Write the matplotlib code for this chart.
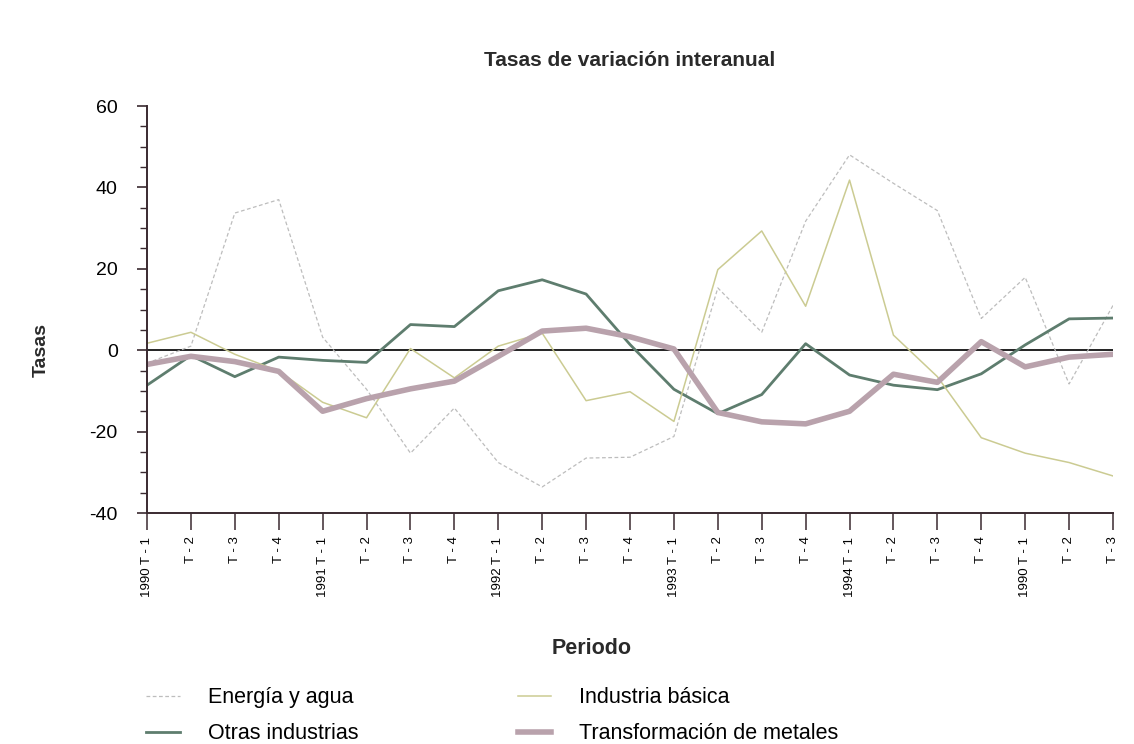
import numpy as np
from matplotlib import pyplot as plt
from matplotlib.lines import Line2D
from matplotlib.ticker import MultipleLocator

plt.rcParams['font.family'] = ['Liberation Sans', 'DejaVu Sans']
plt.rcParams['axes.unicode_minus'] = False

# periods: 1990 T-1 .. 1994 T-4, then 1990 T-1 .. T-3 as printed
periodos = ['1990 T - 1', 'T - 2', 'T - 3', 'T - 4',
            '1991 T - 1', 'T - 2', 'T - 3', 'T - 4',
            '1992 T - 1', 'T - 2', 'T - 3', 'T - 4',
            '1993 T - 1', 'T - 2', 'T - 3', 'T - 4',
            '1994 T - 1', 'T - 2', 'T - 3', 'T - 4',
            '1990 T - 1', 'T - 2', 'T - 3']

energia = [-3.2, 1.0, 33.7, 37.0, 3.2, -9.6, -25.3, -14.2, -27.6, -33.6,
           -26.5, -26.3, -21.2, 15.3, 4.4, 31.7, 48.0, 41.0, 34.3, 7.8,
           17.9, -8.3, 11.0]
basica = [1.7, 4.4, -1.0, -5.1, -12.8, -16.6, 0.4, -6.8, 1.0, 4.2,
          -12.4, -10.2, -17.5, 19.8, 29.3, 10.8, 41.8, 3.7, -6.5, -21.5,
          -25.3, -27.6, -30.9]
otras = [-8.6, -1.3, -6.5, -1.7, -2.5, -3.0, 6.3, 5.8, 14.6, 17.3,
         13.8, 1.4, -9.6, -15.6, -10.9, 1.6, -6.1, -8.6, -9.7, -5.8,
         1.3, 7.7, 7.9]
metales = [-3.5, -1.5, -2.8, -5.2, -15.0, -11.9, -9.5, -7.6, -1.5, 4.7,
           5.4, 3.3, 0.3, -15.3, -17.6, -18.1, -15.0, -5.9, -7.9, 2.1,
           -4.1, -1.7, -1.0]

series = [
    ('Energía y agua', energia, dict(color='#bdbdbd', lw=0.9, ls=(0, (3, 2)))),
    ('Otras industrias', otras, dict(color='#5e7d6e', lw=2.0, ls='-')),
    ('Industria básica', basica, dict(color='#cbcb92', lw=1.1, ls='-')),
    ('Transformación de metales', metales, dict(color='#b9a2ac', lw=4.0, ls='-')),
]

fig = plt.figure(figsize=(11.34, 7.44), dpi=100)
ax = fig.add_axes([147 / 1134, 1 - 513 / 744, (1113 - 147) / 1134, (513 - 106) / 744])

x = np.arange(len(periodos))
ax.axhline(0, color='#222222', lw=1.4, zorder=1)
handles = []
for name, vals, st in series:
    ax.plot(x, vals, zorder=2, solid_joinstyle='round', **st)
    handles.append(Line2D([], [], **st))

ax.set_xlim(0, len(periodos) - 1)
ax.set_ylim(-40, 60)
ax.yaxis.set_major_locator(MultipleLocator(20))
ax.yaxis.set_minor_locator(MultipleLocator(5))
ax.set_xticks(x)
ax.set_xticklabels(periodos, rotation=90, fontsize=9.5, va='top')

for s in ('top', 'right'):
    ax.spines[s].set_visible(False)
for s in ('left', 'bottom'):
    ax.spines[s].set_color('#3a2a30')
    ax.spines[s].set_linewidth(1.4)
ax.tick_params(axis='y', which='major', length=7, width=1.2, labelsize=14,
               color='#3a2a30', pad=14)
ax.tick_params(axis='y', which='minor', length=5, width=1.0, color='#3a2a30')
ax.tick_params(axis='x', length=12, width=1.1, color='#3a2a30', pad=5)

fig.text(630 / 1134, 1 - 60 / 744, 'Tasas de variación interanual',
         ha='center', va='center', fontsize=15, fontweight='bold', color='#2a2a2a')
fig.text(41 / 1134, 1 - 350 / 744, 'Tasas', rotation=90, ha='center',
         va='center', fontsize=14, fontweight='bold', color='#2a2a2a')
fig.text(592 / 1134, 1 - 648 / 744, 'Periodo', ha='center', va='center',
         fontsize=15.5, fontweight='bold', color='#2a2a2a')

leg = fig.legend(handles, [s[0] for s in series], ncol=2,
                 loc='upper left', bbox_to_anchor=(127 / 1134, 1 - 668 / 744),
                 frameon=False, fontsize=15.5, handlelength=1.55,
                 handletextpad=1.3, columnspacing=7.4, labelspacing=0.7)

fig.savefig('out.png', dpi=100, facecolor='white')
